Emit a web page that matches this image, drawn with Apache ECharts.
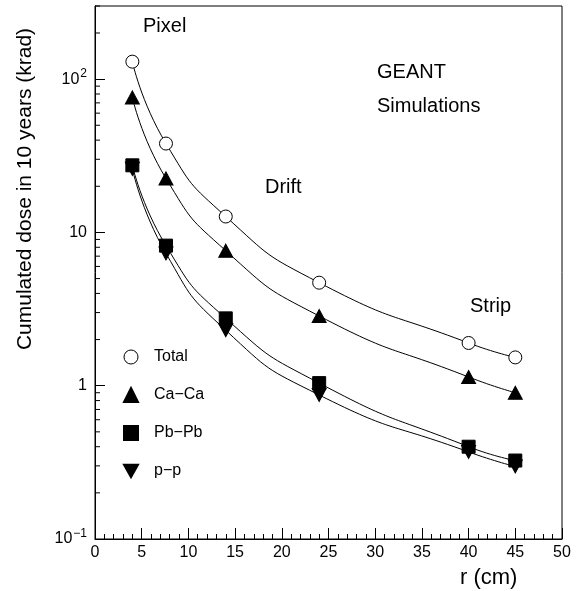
<!DOCTYPE html>
<html>
<head>
<meta charset="utf-8">
<script src="https://cdn.jsdelivr.net/npm/echarts@6/dist/echarts.min.js"></script>
<style>
  html, body { margin: 0; padding: 0; background: #fff; }
  #main { width: 583px; height: 591px; }
</style>
</head>
<body>
<div id="main"></div>
<script>
// radii of the layers (cm) and dose values (krad)
var radii = [4, 7.6, 14, 24, 40, 45];
var doseTotal = [130, 38, 12.7, 4.7, 1.9, 1.53];
var doseCaCa = [76, 22.5, 7.6, 2.85, 1.14, 0.9];
var dosePbPb = [27.4, 8.2, 2.75, 1.04, 0.4, 0.325];
var dosePP = [26, 7.3, 2.3, 0.87, 0.37, 0.297];

var seriesNames = ['Total', 'Ca\u2212Ca', 'Pb\u2212Pb', 'p\u2212p'];
var xTicks = [0, 5, 10, 15, 20, 25, 30, 35, 40, 45, 50];
var yDecades = [0.1, 1, 10, 100];
var yMinorMult = [2, 3, 4, 5, 6, 7, 8, 9];
var yMax = 300;

var FONT = '"Liberation Sans", Arial, sans-serif';
var downTri = 'path://M0,0L10,0L5,9Z';

function pairs(ys) {
    return radii.map(function (x, i) { return [x, ys[i]]; });
}

// minor tick values on the log axis
var minorTicks = [];
yDecades.forEach(function (d) {
    yMinorMult.forEach(function (m) {
        var v = d * m;
        if (v <= yMax) minorTicks.push([0, v]);
    });
});

function curve(name, ys, symbol, size, fill) {
    return {
        name: name,
        type: 'line',
        data: pairs(ys),
        smooth: 0.55,
        symbol: symbol,
        symbolSize: size,
        showSymbol: true,
        lineStyle: { color: '#000', width: 1 },
        itemStyle: { color: fill, borderColor: '#000', borderWidth: 1 },
        emphasis: { disabled: true },
        z: 3
    };
}

var chart = echarts.init(document.getElementById('main'));

chart.setOption({
    animation: false,
    backgroundColor: '#fff',
    textStyle: { fontFamily: FONT, color: '#000' },
    grid: {
        left: 95, right: 21, top: 6, bottom: 52,
        show: true, borderColor: '#000', borderWidth: 1,
        containLabel: false
    },
    legend: {
        orient: 'vertical',
        left: 118,
        top: 344,
        itemWidth: 14,
        itemHeight: 14,
        itemGap: 22,
        selectedMode: false,
        textStyle: { fontFamily: FONT, fontSize: 16, color: '#000', padding: [0, 0, 0, 11] },
        data: [
            { name: seriesNames[0], icon: 'circle', itemStyle: { color: '#fff', borderColor: '#000', borderWidth: 1 } },
            { name: seriesNames[1], icon: 'triangle', itemStyle: { color: '#000' } },
            { name: seriesNames[2], icon: 'rect', itemStyle: { color: '#000' } },
            { name: seriesNames[3], icon: downTri, itemStyle: { color: '#000' } }
        ]
    },
    xAxis: {
        type: 'value',
        min: xTicks[0],
        max: xTicks[xTicks.length - 1],
        interval: 5,
        axisLine: { lineStyle: { color: '#000', width: 1 } },
        axisTick: { inside: true, length: 11, lineStyle: { color: '#000' } },
        minorTick: { show: true, splitNumber: 5, length: 5, lineStyle: { color: '#000' } },
        axisLabel: { fontFamily: FONT, fontSize: 16, color: '#000', margin: 6 },
        splitLine: { show: false }
    },
    yAxis: {
        type: 'log',
        logBase: 10,
        min: yDecades[0],
        max: yMax,
        axisLine: { lineStyle: { color: '#000', width: 1 } },
        axisTick: { inside: true, length: 10, lineStyle: { color: '#000' } },
        axisLabel: {
            fontFamily: FONT, fontSize: 16, color: '#000', margin: 8,
            showMaxLabel: false,
            formatter: function (v) {
                if (Math.abs(v - 0.1) < 1e-9) return '{b|10}{s|\u22121}';
                if (Math.abs(v - 1) < 1e-9) return '{b|1}';
                if (Math.abs(v - 10) < 1e-9) return '{b|10}';
                if (Math.abs(v - 100) < 1e-9) return '{b|10}{s|2}';
                return '';
            },
            rich: {
                b: { fontFamily: FONT, fontSize: 16, color: '#000', lineHeight: 18 },
                s: { fontFamily: FONT, fontSize: 12, color: '#000', lineHeight: 12, padding: [0, 0, 10, 1] }
            }
        },
        splitLine: { show: false }
    },
    graphic: [
        { type: 'text', left: 143, top: 16, style: { text: 'Pixel', font: '20px ' + FONT, fill: '#000' } },
        { type: 'text', left: 377, top: 62, style: { text: 'GEANT', font: '20px ' + FONT, fill: '#000' } },
        { type: 'text', left: 377, top: 96, style: { text: 'Simulations', font: '20px ' + FONT, fill: '#000' } },
        { type: 'text', left: 265, top: 177, style: { text: 'Drift', font: '20px ' + FONT, fill: '#000' } },
        { type: 'text', left: 470, top: 296, style: { text: 'Strip', font: '20px ' + FONT, fill: '#000' } },
        { type: 'text', left: 460, top: 567, style: { text: 'r (cm)', font: '22px ' + FONT, fill: '#000' } },
        {
            type: 'text',
            x: 25, y: 189,
            rotation: Math.PI / 2,
            style: {
                text: 'Cumulated dose in 10 years (krad)',
                font: '21px ' + FONT, fill: '#000',
                align: 'center', verticalAlign: 'middle'
            }
        }
    ],
    series: [
        curve(seriesNames[0], doseTotal, 'circle', 13, '#fff'),
        curve(seriesNames[1], doseCaCa, 'triangle', [14, 13], '#000'),
        curve(seriesNames[2], dosePbPb, 'rect', 13, '#000'),
        curve(seriesNames[3], dosePP, downTri, [14, 13], '#000'),
        {
            type: 'custom',
            silent: true,
            data: minorTicks,
            z: 4,
            renderItem: function (params, api) {
                var p = api.coord([api.value(0), api.value(1)]);
                return {
                    type: 'line',
                    shape: { x1: p[0], y1: p[1], x2: p[0] + 5, y2: p[1] },
                    style: { stroke: '#000', lineWidth: 1 }
                };
            }
        }
    ]
});
</script>
</body>
</html>
